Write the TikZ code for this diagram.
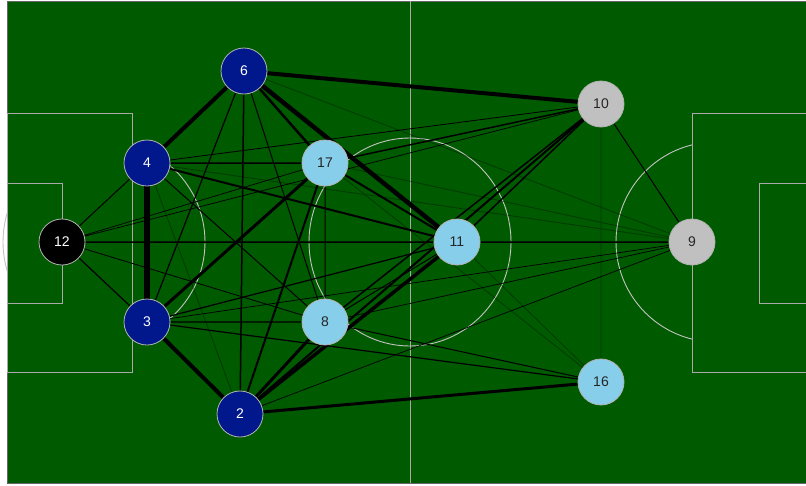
\documentclass[tikz,border=0pt]{standalone}
\usepackage{fontspec}
\setmainfont{Liberation Sans}
\usepackage{xcolor}

\definecolor{pitchgreen}{RGB}{0,90,0}
\definecolor{pitchline}{RGB}{170,170,170}
\definecolor{navyblue}{RGB}{0,24,140}
\definecolor{skyblue}{RGB}{135,206,235}
\definecolor{silvergray}{RGB}{192,192,192}

\pgfdeclarelayer{pitch}
\pgfdeclarelayer{passes}
\pgfsetlayers{pitch,passes,main}

\begin{document}
\begin{tikzpicture}[x=1pt, y=-1pt,
    player/.style={circle, draw=gray!60, line width=0.8pt, minimum size=46pt, inner sep=0pt,
        font=\fontsize{14}{16}\selectfont},
    defender/.style={player, fill=navyblue, text=white},
    keeper/.style={player, fill=black, text=white},
    midfield/.style={player, fill=skyblue, text=black!85},
    forward/.style={player, fill=silvergray, text=black!85},
    pass/.style={line width=#1pt, black},
    faint/.style={line width=#1pt, black, opacity=0.35},
    chalk/.style={draw=pitchline, line width=0.9pt}]

    \useasboundingbox (0,0) rectangle (806,485);

    % --- Pitch ---
    \begin{pgfonlayer}{pitch}
    \fill[white] (0,0) rectangle (806,485);
    \clip (0,0) rectangle (806,485);
    \filldraw[fill=pitchgreen, draw=gray!80!black] (7,1) rectangle (813,483);
    \draw[chalk] (410,1) -- (410,483);
    \draw[chalk, draw=pitchline!70!white] (410,242) ellipse [x radius=101, y radius=104];
    % left end
    \draw[chalk, draw=pitchline!70!white] (104,242) circle (101);
    \filldraw[chalk, fill=pitchgreen] (7,113) rectangle (132,372);
    \draw[chalk] (7,183) rectangle (62,303);
    % right end
    \draw[chalk, draw=pitchline!70!white] (716,242) circle (100);
    \filldraw[chalk, fill=pitchgreen] (813,113) rectangle (692,372);
    \draw[chalk] (813,183) rectangle (759,303);
    \end{pgfonlayer}

    % --- Players ---
    \node[keeper]   (p12) at (62,242)  {12};
    \node[defender] (p4)  at (147,163) {4};
    \node[defender] (p3)  at (147,322) {3};
    \node[defender] (p6)  at (244,71)  {6};
    \node[defender] (p2)  at (240,414) {2};
    \node[midfield] (p17) at (325,163) {17};
    \node[midfield] (p8)  at (325,322) {8};
    \node[midfield] (p11) at (457,242) {11};
    \node[midfield] (p16) at (601,382) {16};
    \node[forward]  (p10) at (601,104) {10};
    \node[forward]  (p9)  at (692,242) {9};

    % --- Passes ---
    \begin{pgfonlayer}{passes}
    % heaviest links
    \draw[pass=5.5] (p4) -- (p3);
    \draw[pass=4.5] (p6) -- (p11);
    \draw[pass=4] (p6) -- (p10) (p6) -- (p4) (p3) -- (p2);
    \draw[pass=3.5] (p2) -- (p11);
    \draw[pass=3] (p3) -- (p17) (p2) -- (p8) (p2) -- (p16);
    \draw[pass=2.5] (p6) -- (p17);
    \draw[pass=2] (p4) -- (p11) (p2) -- (p17) (p2) -- (p10) (p17) -- (p11);
    % medium links
    \draw[pass=1.5] (p6) -- (p2) (p4) -- (p17) (p12) -- (p11) (p17) -- (p10)
        (p8) -- (p10) (p11) -- (p10) (p11) -- (p9);
    \draw[pass=1.2] (p6) -- (p3) (p12) -- (p3) (p3) -- (p8) (p3) -- (p11) (p3) -- (p16);
    \draw[pass=1] (p6) -- (p8) (p4) -- (p12) (p4) -- (p8) (p17) -- (p8) (p8) -- (p11)
        (p8) -- (p16) (p10) -- (p9);
    % light links
    \draw[pass=0.8] (p4) -- (p10) (p12) -- (p8);
    \draw[pass=0.7] (p12) -- (p17) (p12) -- (p10) (p3) -- (p9) (p2) -- (p9) (p8) -- (p9);
    \draw[faint=0.8] (p6) -- (p9) (p4) -- (p2) (p4) -- (p9) (p17) -- (p9) (p17) -- (p16)
        (p11) -- (p16) (p10) -- (p16);
    \end{pgfonlayer}

\end{tikzpicture}
\end{document}
